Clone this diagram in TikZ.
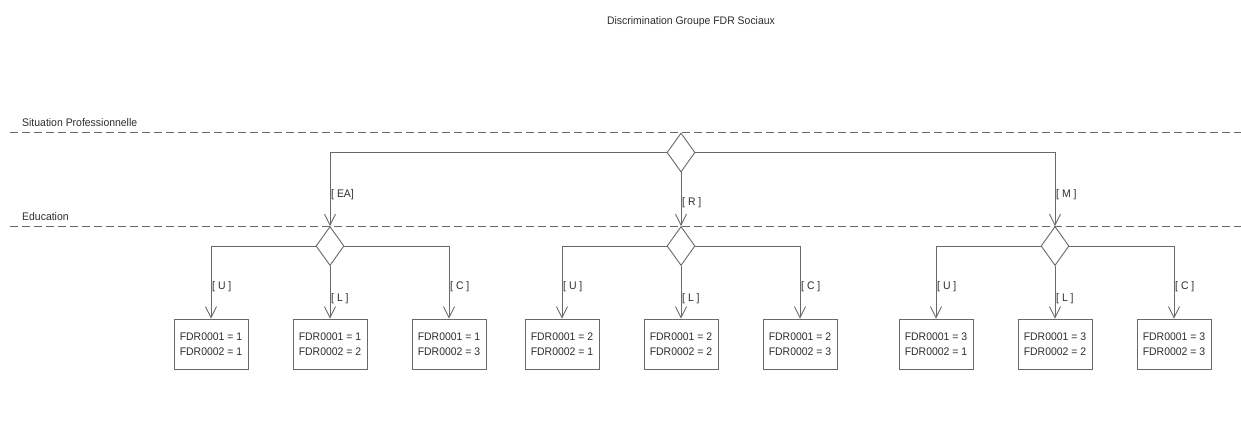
\documentclass[tikz,border=0pt]{standalone}
\usepackage{fontspec}
\setmainfont{Liberation Sans}[FakeStretch=0.95]
\usetikzlibrary{shapes.geometric,arrows.meta}

\definecolor{linegray}{RGB}{105,105,105}
\definecolor{textgray}{RGB}{45,45,45}

\tikzset{
	decision/.style={draw=linegray, line width=0.9pt, shape=diamond, minimum width=28pt, minimum height=39pt, inner sep=0pt, fill=white},
	leaf/.style={draw=linegray, line width=0.9pt, minimum width=74pt, minimum height=50pt, align=center, text=textgray, font=\fontsize{11}{15}\selectfont, inner sep=2pt},
	flow/.style={draw=linegray, line width=0.9pt, -{Straight Barb[length=11pt,width=11pt]}},
	lane/.style={draw=linegray, line width=0.9pt, dash pattern=on 8pt off 4pt},
	guard/.style={anchor=west, inner sep=1pt, text=textgray, font=\fontsize{11}{13}\selectfont},
	lanelabel/.style={anchor=west, inner sep=0pt, text=textgray, font=\fontsize{11}{13}\selectfont}
}

\begin{document}
\begin{tikzpicture}[x=1pt, y=-1pt]
				\useasboundingbox (0,0) rectangle (1241,421);
				
				% Title
				\node[text=textgray, font=\fontsize{11}{13}\selectfont] (title) at (691,22) {Discrimination Groupe FDR Sociaux};
				
				% Swimlanes
				\draw[lane] (10,132) -- (1241,132);
				\node[lanelabel] (situation) at (22,123) {Situation Professionnelle};
				\draw[lane] (10,226) -- (1241,226);
				\node[lanelabel] (education) at (22,217) {Education};
				
				% Decisions
				\node[decision] (top) at (681,152.5) {};
				
				\foreach \g/\x/\v in {EA/330/1, R/681/2, M/1055/3} {
					\node[decision] (d\g) at (\x,246) {};
					\node[leaf] (\g U) at (\x-119,344) {FDR0001 = \v\\FDR0002 = 1};
					\node[leaf] (\g L) at (\x,344) {FDR0001 = \v\\FDR0002 = 2};
					\node[leaf] (\g C) at (\x+119,344) {FDR0001 = \v\\FDR0002 = 3};
					
					\draw[flow] (d\g.west) -| (\g U.north);
					\draw[flow] (d\g.south) -- (\g L.north);
					\draw[flow] (d\g.east) -| (\g C.north);
					
					\node[guard] (g\g U) at (\x-119,287) {[ U ]};
					\node[guard] (g\g L) at (\x,299) {[ L ]};
					\node[guard] (g\g C) at (\x+119,287) {[ C ]};
				}
				
				% Top level branches
				\draw[flow] (top.west) -| (dEA.north);
				\draw[flow] (top.south) -- (dR.north);
				\draw[flow] (top.east) -| (dM.north);
				
				\node[guard] (gEA) at (330,195) {[ EA]};
				\node[guard] (gR) at (681,203) {[ R ]};
				\node[guard] (gM) at (1055,195) {[ M ]};
			\end{tikzpicture}
\end{document}
